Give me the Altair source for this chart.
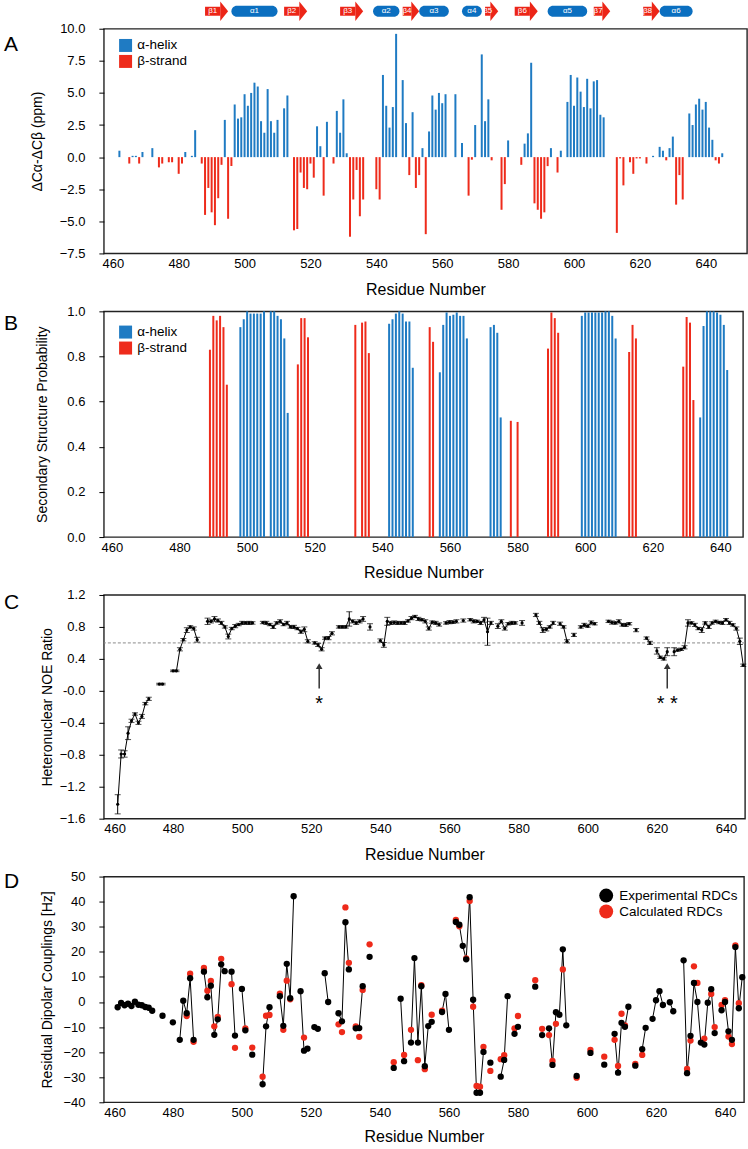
import altair as alt
import numpy as np
import pandas as pd

FONT = "Liberation Sans"
BLUE = "#1f7bc3"
RED = "#ee2b1b"
SS_BLUE = "#0b6fc0"
SS_RED = "#ec2517"
HELIX, STRAND = "α-helix", "β-strand"
X_TITLE = "Residue Number"
X_TICKS = list(range(460, 641, 20))

# ---------------- secondary-structure elements (track above panel A) ----------------
ss_name = ["β1", "α1", "β2", "β3", "α2", "β4", "α3", "α4", "β5", "β6", "α5", "β7", "β8", "α6"]
ss_start = [488, 496, 512, 529, 539, 548, 553, 566, 573, 582, 592, 606, 621, 626]
ss_end = [495, 510, 519, 536, 547, 553, 562, 572, 577, 589, 604, 611, 626, 636]

# ---------------- A: secondary chemical shifts ----------------
shift_res = [462, 465, 466, 467, 468, 469, 472, 474, 475, 477, 478, 480, 481, 482, 484, 485,
             487, 488, 489, 490, 491, 492, 493, 494, 495, 496, 497, 498, 499, 500, 501, 502,
             503, 504, 505, 506, 507, 508, 509, 510, 512, 513, 515, 516, 517, 518, 519, 520,
             521, 522, 523, 524, 525, 527, 528, 529, 530, 531, 532, 533, 534, 535, 536, 540,
             541, 542, 543, 544, 545, 546, 548, 549, 550, 551, 552, 553, 554, 555, 556, 557,
             558, 559, 560, 561, 564, 566, 568, 569, 570, 572, 573, 574, 575, 578, 579, 580,
             584, 585, 586, 587, 588, 589, 590, 591, 592, 593, 595, 596, 598, 599, 600, 601,
             602, 603, 604, 605, 606, 607, 608, 609, 613, 614, 615, 617, 618, 619, 620, 622,
             624, 626, 627, 628, 629, 630, 631, 632, 633, 635, 636, 637, 638, 639, 640, 641,
             642, 643, 644, 645]
shift_val = [0.5, -0.5, 0.1, 0.1, -0.5, 0.4, 0.7, -0.8, -0.5, -0.4, -0.4, -1.3, -0.5, 0.4, 0.1, 2.1,
             -0.5, -4.5, -2.4, -4.3, -5.3, -3.2, -0.6, 2.9, -4.8, -0.7, 4.1, 3.0, 3.1, 4.9, 4.0, 5.0,
             5.8, 5.5, 2.8, 1.9, 5.3, 2.8, 1.9, 2.9, 3.8, 4.8, -5.7, -5.6, -1.2, -2.4, -2.5, -0.5,
             -1.6, 2.4, 0.85, -3.0, 2.75, -0.5, 3.6, 1.9, 4.5, 0.3, -6.2, -3.3, -1.0, -4.6, -3.3, -2.5,
             -3.3, 6.4, 4.0, 2.3, 3.9, 9.6, 6.0, 2.65, -1.4, 3.5, -2.4, -1.4, 0.7, -6.0, 2.0, 4.8,
             3.7, 5.0, 4.2, 4.9, 4.9, 1.1, -3.0, -0.2, 2.5, 8.0, 2.8, 4.5, -0.25, -4.1, -2.1, 1.3,
             -0.6, 1.05, 1.85, 7.35, -3.6, -4.1, -4.8, -4.3, -0.7, 0.7, -1.2, 0.5, 4.3, 6.4, 4.0, 6.2,
             5.1, 3.9, 6.1, 3.8, 5.9, 6.0, 3.3, 3.1, -5.9, -0.1, -2.2, -0.4, -1.3, -0.1, -0.1, -0.5,
             0.1, 0.8, 0.5, -0.25, 0.7, 1.6, -3.7, -1.4, -3.3, 3.4, 2.5, 4.1, 4.55, 3.7, 4.3, 2.3,
             1.35, -0.25, -0.5, 0.3]

# ---------------- B: secondary-structure probabilities ----------------
helix_res = [498, 499, 500, 501, 502, 503, 504, 505, 507, 508, 509, 510, 511, 512,
             542, 543, 544, 545, 546, 547, 548, 549,
             557, 558, 559, 560, 561, 562, 563, 564, 565,
             572, 573, 574, 575,
             599, 600, 601, 602, 603, 604, 605, 606, 607, 608, 609,
             634, 635, 636, 637, 638, 639, 640, 641, 642]
helix_prob = [0.93, 0.965, 1.0, 0.99, 0.99, 0.99, 0.99, 1.0, 1.0, 1.0, 0.98, 0.965, 0.88, 0.55,
              0.945, 0.965, 0.99, 1.0, 0.99, 0.955, 0.955, 0.75,
              0.73, 0.94, 0.995, 0.98, 0.985, 0.995, 0.98, 0.98, 0.88,
              0.93, 0.94, 0.905, 0.53,
              0.98, 0.995, 0.995, 0.995, 0.995, 0.995, 0.995, 1.0, 1.0, 0.98, 0.88,
              0.53, 0.935, 1.0, 1.0, 1.0, 0.995, 0.985, 0.94, 0.74]
strand_res = [489, 490, 491, 492, 493, 494, 515, 516, 517, 518, 532, 534, 535, 536,
              554, 555, 578, 580, 589, 590, 591, 592, 613, 614, 615, 629, 630, 631, 632]
strand_prob = [0.83, 0.98, 0.96, 0.98, 0.93, 0.675, 0.765, 0.97, 0.97, 0.885, 0.94, 0.95, 0.955, 0.815,
               0.93, 0.865, 0.515, 0.51, 0.835, 0.995, 0.97, 0.905, 0.82, 0.94, 0.88, 0.755, 0.975, 0.95, 0.607]

# ---------------- C: heteronuclear NOE ----------------
noe_res = [464, 465, 466, 467, 468, 469, 470, 471, 472, 473, 476, 477, 480, 481, 482, 483,
           484, 485, 486, 487, 490, 491, 492, 493, 494, 495, 496, 497, 498, 499, 500, 501,
           502, 503, 506, 507, 508, 509, 510, 511, 512, 513, 514, 515, 516, 517, 518, 519,
           521, 522, 523, 524, 525, 526, 528, 529, 530, 531, 532, 533, 534, 535, 537, 540,
           541, 542, 543, 544, 545, 546, 547, 548, 549, 550, 551, 552, 553, 554, 555, 556,
           557, 559, 560, 561, 562, 564, 566, 567, 568, 569, 570, 571, 572, 574, 575, 576,
           577, 578, 579, 581, 585, 586, 587, 588, 589, 590, 592, 593, 594, 596, 598, 599,
           600, 601, 602, 606, 607, 608, 609, 610, 611, 612, 614, 617, 618, 620, 621, 622,
           623, 625, 626, 627, 628, 629, 630, 631, 632, 633, 634, 635, 636, 637, 638, 639,
           640, 641, 642, 643, 644, 645]
noe_val = [-1.42, -0.79, -0.79, -0.53, -0.375, -0.29, -0.40, -0.32, -0.16, -0.10, 0.085, 0.085, 0.25, 0.25, 0.52, 0.64,
           0.76, 0.80, 0.78, 0.64, 0.87, 0.87, 0.90, 0.88, 0.85, 0.80, 0.68, 0.78, 0.81, 0.83, 0.85, 0.85,
           0.85, 0.85, 0.855, 0.85, 0.83, 0.80, 0.85, 0.87, 0.83, 0.85, 0.80, 0.80, 0.78, 0.74, 0.77, 0.62,
           0.60, 0.575, 0.52, 0.66, 0.66, 0.72, 0.80, 0.80, 0.80, 0.90, 0.87, 0.85, 0.87, 0.90, 0.80, 0.63,
           0.575, 0.87, 0.85, 0.855, 0.85, 0.85, 0.85, 0.875, 0.91, 0.93, 0.90, 0.89, 0.87, 0.78, 0.86, 0.85,
           0.83, 0.85, 0.86, 0.86, 0.87, 0.88, 0.89, 0.87, 0.87, 0.85, 0.89, 0.74, 0.85, 0.81, 0.87, 0.78,
           0.84, 0.85, 0.85, 0.85, 0.95, 0.85, 0.76, 0.77, 0.80, 0.85, 0.84, 0.80, 0.62, 0.70, 0.80, 0.825,
           0.81, 0.855, 0.84, 0.87, 0.855, 0.85, 0.87, 0.825, 0.825, 0.84, 0.76, 0.66, 0.60, 0.50, 0.42, 0.40,
           0.49, 0.49, 0.51, 0.52, 0.545, 0.85, 0.85, 0.825, 0.78, 0.76, 0.85, 0.80, 0.85, 0.87, 0.855, 0.85,
           0.89, 0.85, 0.825, 0.78, 0.62, 0.32]
noe_err = [0.12, 0.05, 0.04, 0.08, 0.02, 0.015, 0.02, 0.025, 0.015, 0.02, 0.01, 0.01, 0.01, 0.01, 0.02, 0.015,
           0.03, 0.015, 0.02, 0.03, 0.04, 0.02, 0.03, 0.02, 0.02, 0.015, 0.03, 0.015, 0.02, 0.015, 0.02, 0.015,
           0.02, 0.015, 0.015, 0.02, 0.015, 0.02, 0.015, 0.02, 0.015, 0.02, 0.015, 0.02, 0.015, 0.02, 0.03, 0.02,
           0.015, 0.02, 0.02, 0.015, 0.02, 0.02, 0.015, 0.015, 0.015, 0.09, 0.02, 0.02, 0.02, 0.03, 0.04, 0.02,
           0.03, 0.05, 0.02, 0.02, 0.02, 0.015, 0.02, 0.015, 0.02, 0.015, 0.02, 0.015, 0.02, 0.02, 0.015, 0.02,
           0.02, 0.015, 0.02, 0.015, 0.02, 0.02, 0.015, 0.02, 0.015, 0.02, 0.03, 0.17, 0.02, 0.03, 0.02, 0.02,
           0.015, 0.02, 0.015, 0.03, 0.02, 0.02, 0.03, 0.02, 0.015, 0.02, 0.02, 0.015, 0.02, 0.02, 0.015, 0.02,
           0.015, 0.02, 0.015, 0.015, 0.02, 0.015, 0.02, 0.015, 0.02, 0.015, 0.02, 0.015, 0.02, 0.04, 0.015, 0.015,
           0.05, 0.05, 0.015, 0.015, 0.02, 0.04, 0.015, 0.02, 0.015, 0.03, 0.015, 0.02, 0.015, 0.015, 0.015, 0.02,
           0.015, 0.02, 0.015, 0.02, 0.04, 0.015]
NOE_CUTOFF = 0.6
flag_res = [522.3, 623]
flag_text = ["*", "* *"]

# ---------------- D: residual dipolar couplings ----------------
rdc_res = [464, 465, 466, 467, 468, 469, 470, 471, 472, 473, 474, 477, 480, 482, 483, 484,
           485, 486, 489, 490, 491, 492, 493, 494, 495, 497, 498, 500, 501, 503, 506, 507,
           508, 511, 512, 513, 514, 515, 517, 518, 519, 521, 522, 524, 525, 528, 529, 530,
           531, 533, 534, 535, 537, 544, 546, 547, 549, 550, 551, 552, 553, 554, 555, 558,
           559, 560, 562, 563, 564, 565, 566, 567, 568, 569, 570, 572, 575, 576, 577, 579,
           580, 585, 587, 589, 590, 591, 592, 593, 594, 597, 601, 605, 608, 609, 610, 611,
           612, 614, 616, 617, 619, 620, 621, 622, 624, 625, 628, 629, 630, 631, 632, 633,
           634, 635, 636, 637, 639, 640, 641, 642, 643, 644, 645]
rdc_exp = [-2.1, -0.4, -1.3, -0.7, -1.6, 0.1, -1.1, -1.3, -2.0, -2.3, -3.5, -5.5, -8.1, -15.1, 0.5, -4.5,
           9.5, -15.1, 12.1, 1.9, 6.5, -13.1, -6.9, 15.0, 12.3, 12.1, -13.4, 5.2, -11.3, -21.0, -32.8, -9.7,
           -2.1, 2.3, -9.5, 15.2, 1.5, 42.2, 4.3, -19.4, -18.6, -10.0, -10.7, 11.5, 0.0, -4.5, -7.7, 31.8,
           13.0, -10.5, -10.4, 6.3, 18.0, -26.3, 1.3, -23.6, -16.2, 17.5, -16.2, 6.3, -25.6, -9.6, -7.9, -4.0,
           3.2, -11.1, 31.9, 30.8, 22.4, 17.0, 41.8, 0.9, -36.2, -36.2, -19.9, -24.2, -29.8, -23.1, 2.3, -12.7,
           -9.9, 6.1, -13.2, -10.5, -25.1, -4.1, -5.1, 21.0, -9.3, -29.5, -20.3, -25.0, -12.7, -28.2, -8.3, -9.9,
           -1.9, -25.4, -18.8, -10.3, -6.7, 0.7, 4.3, -1.2, -0.1, -3.7, 16.6, -28.4, -13.5, 7.6, 0.0, -16.2,
           -17.0, -0.3, 5.1, -12.4, -3.3, 0.0, -11.7, -15.1, 21.9, -2.5, 9.9]
calc_res = [484, 485, 486, 489, 490, 491, 492, 493, 494, 497, 498, 501, 503, 506, 507, 508,
            511, 512, 513, 514, 518, 528, 529, 530, 531, 533, 534, 535, 537, 544, 547, 549,
            551, 552, 553, 555, 558, 562, 563, 565, 566, 567, 568, 569, 570, 572, 575, 576,
            579, 580, 585, 587, 589, 590, 591, 593, 597, 601, 605, 608, 609, 610, 611, 614,
            616, 629, 630, 631, 632, 634, 636, 637, 639, 640, 641, 642, 643, 644]
rdc_calc = [-5.6, 11.3, -15.9, 13.6, 4.5, 8.4, -9.7, -6.0, 17.2, 7.1, -18.3, -10.5, -18.2, -29.8, -5.5, -5.2,
            3.3, -11.1, 8.5, 1.1, -14.2, -8.9, -12.0, 37.7, 15.6, -9.7, -13.9, 4.8, 23.0, -24.0, -21.1, -11.1,
            -23.2, 6.7, -26.8, -5.1, -3.5, 32.7, 30.2, 17.4, 40.3, -1.9, -33.5, -33.8, -17.9, -27.5, -22.8, -21.2,
            -10.5, -5.6, 8.7, -10.7, -13.2, -23.5, -8.7, 13.0, -30.2, -19.1, -21.8, -15.1, -25.5, -4.7, -9.3, -24.7,
            -21.1, -26.7, -15.4, 14.2, 7.6, -14.6, 3.2, -10.0, -1.2, 0.7, -13.8, -16.8, 22.6, -0.5]
EXP_LABEL, CALC_LABEL = "Experimental RDCs", "Calculated RDCs"


def runs(res):
    """Label runs of consecutive residues so lines break across gaps."""
    out, k = [], 0
    for i, r in enumerate(res):
        if i and r - res[i - 1] > 1:
            k += 1
        out.append(k)
    return out


def x_enc(field, domain, title_pad=11):
    return alt.X(field, type="quantitative",
                 scale=alt.Scale(domain=domain, nice=False, zero=False),
                 axis=alt.Axis(values=X_TICKS, title=X_TITLE, format="d", ticks=False,
                               domain=False, grid=False, labelFontSize=13, labelPadding=4,
                               titleFontSize=16, titlePadding=title_pad, titleFontWeight="normal",
                               labelFont=FONT, titleFont=FONT, labelColor="black",
                               titleColor="black"))


def y_enc(field, domain, values, title, title_x, fmt=".1f", label_expr=None):
    axis_kw = dict(values=values, title=title, format=fmt, tickSize=5, tickColor="black",
                   domain=False, grid=False, labelFontSize=13, labelPadding=14,
                   titleFontSize=14, titleFontWeight="normal", titleX=title_x,
                   titleBaseline="middle", titleAlign="center", labelFont=FONT,
                   titleFont=FONT, labelColor="black", titleColor="black")
    if label_expr:
        axis_kw["labelExpr"] = label_expr
    return alt.Y(field, type="quantitative", scale=alt.Scale(domain=domain, nice=False, zero=False),
                 axis=alt.Axis(**axis_kw))


def letter(t, dy):
    return alt.Chart(pd.DataFrame({"t": [t]})).mark_text(
        font=FONT, fontSize=21, align="left", baseline="middle", color="black"
    ).encode(x=alt.value(-100), y=alt.value(dy), text="t:N")


def type_legend(top):
    return alt.Legend(title=None, orient="none", legendX=15, legendY=top, padding=0,
                      symbolType="square", symbolSize=169, symbolStrokeWidth=0, symbolOpacity=1,
                      labelFontSize=13.5, labelFont=FONT, labelColor="black", rowPadding=1,
                      labelOffset=5)


type_color = dict(scale=alt.Scale(domain=[HELIX, STRAND], range=[BLUE, RED]))

# ================= Panel A =================
A_DOM_X = [458.8, 651]
A_DOM_Y = [-7.5, 10]
A_W, A_H = 644, 225
a_ticks = [-7.5, -5, -2.5, 0, 2.5, 5, 7.5, 10]
ya = lambda f: y_enc(f, A_DOM_Y, a_ticks, "ΔCα-ΔCβ (ppm)", -66)
xa = lambda f: x_enc(f, A_DOM_X)

df_a = pd.DataFrame({"res": shift_res, "val": shift_val})
df_a["type"] = np.where(df_a["val"] >= 0, HELIX, STRAND)
bars_a = alt.Chart(df_a).mark_bar(size=2).encode(
    x=xa("res"), y=ya("val"),
    color=alt.Color("type:N", legend=type_legend(10), **type_color))

# secondary-structure track geometry, in A's data units
y_unit = (A_DOM_Y[1] - A_DOM_Y[0]) / A_H          # data units per pixel (y)
x_unit = (A_DOM_X[1] - A_DOM_X[0]) / A_W          # residues per pixel (x)
track_c = A_DOM_Y[1] + 17.5 * y_unit
head = 8 * x_unit
ss = pd.DataFrame({"name": ss_name, "start": ss_start, "end": ss_end})
ss["kind"] = np.where(ss["name"].str.startswith("β"), "strand", "helix")
strands = ss[ss.kind == "strand"].copy()
helices = ss[ss.kind == "helix"].copy()
strands["neck"] = strands["end"] - head
strands["b_lo"] = track_c - 4.5 * y_unit
strands["b_hi"] = track_c + 4.5 * y_unit
strands["lab_x"] = (strands["start"] + strands["neck"]) / 2
helices["e_lo"] = track_c - 5.5 * y_unit
helices["e_hi"] = track_c + 5.5 * y_unit
helices["lab_x"] = (helices["start"] + helices["end"]) / 2
heads = pd.concat([
    pd.DataFrame({"name": strands["name"], "hx": strands["neck"],
                  "lo": track_c - 9.7 * y_unit, "hi": track_c + 9.7 * y_unit}),
    pd.DataFrame({"name": strands["name"], "hx": strands["end"], "lo": track_c, "hi": track_c}),
])
labels_ss = pd.concat([strands[["name", "lab_x"]], helices[["name", "lab_x"]]])
labels_ss["yc"] = track_c

body = alt.Chart(strands).mark_rect(color=SS_RED).encode(
    x=xa("start"), x2="neck", y=ya("b_lo"), y2="b_hi")
tips = alt.Chart(heads).mark_area(color=SS_RED, opacity=1).encode(
    x=xa("hx"), y=ya("lo"), y2="hi", detail="name:N")
ovals = alt.Chart(helices).mark_rect(color=SS_BLUE, cornerRadius=5.5).encode(
    x=xa("start"), x2="end", y=ya("e_lo"), y2="e_hi")
ss_text = alt.Chart(labels_ss).mark_text(color="white", fontSize=8, font=FONT).encode(
    x=xa("lab_x"), y=ya("yc"), text="name:N")

panel_a = alt.layer(bars_a, body, tips, ovals, ss_text, letter("A", 16)).properties(
    width=A_W, height=A_H)

# ================= Panel B =================
B_DOM_X = [459.1, 645.2]
b_ticks = [0, 0.2, 0.4, 0.6, 0.8, 1.0]
df_b = pd.concat([
    pd.DataFrame({"res": helix_res, "prob": helix_prob, "type": HELIX}),
    pd.DataFrame({"res": strand_res, "prob": strand_prob, "type": STRAND}),
])
bars_b = alt.Chart(df_b).mark_bar(size=2).encode(
    x=x_enc("res", B_DOM_X),
    y=y_enc("prob", [0, 1], b_ticks, "Secondary Structure Probability", -61),
    color=alt.Color("type:N", legend=type_legend(14), **type_color))
panel_b = alt.layer(bars_b, letter("B", 13)).properties(width=640, height=226)

# ================= Panel C =================
C_DOM_X = [460, 645.5]
C_DOM_Y = [-1.6, 1.2]
c_ticks = [-1.6, -1.2, -0.8, -0.4, 0, 0.4, 0.8, 1.2]
xc = lambda f: x_enc(f, C_DOM_X)
yc = lambda f: y_enc(f, C_DOM_Y, c_ticks, "Heteronuclear NOE Ratio", -56,
                     label_expr="datum.value == 0 ? '-0.0' : format(datum.value, '.1f')")
df_c = pd.DataFrame({"res": noe_res, "noe": noe_val, "err": noe_err})
df_c["lo"] = df_c["noe"] - df_c["err"]
df_c["hi"] = df_c["noe"] + df_c["err"]
df_c["run"] = runs(noe_res)
caps_c = pd.concat([df_c[["res", "lo"]].rename(columns={"lo": "cap"}),
                    df_c[["res", "hi"]].rename(columns={"hi": "cap"})])

cutoff = alt.Chart(pd.DataFrame({"c": [NOE_CUTOFF]})).mark_rule(
    color="#8a8a8a", strokeDash=[3, 2], strokeWidth=1).encode(y=yc("c"))
line_c = alt.Chart(df_c).mark_line(color="black", strokeWidth=1).encode(
    x=xc("res"), y=yc("noe"), detail="run:N")
err_c = alt.Chart(df_c).mark_rule(color="black", strokeWidth=1).encode(
    x=xc("res"), y=yc("lo"), y2="hi")
cap_c = alt.Chart(caps_c).mark_tick(color="black", orient="horizontal", size=6, thickness=1).encode(
    x=xc("res"), y=yc("cap"))
pts_c = alt.Chart(df_c).mark_circle(color="black", size=10, opacity=1).encode(
    x=xc("res"), y=yc("noe"))

flags = pd.DataFrame({"res": flag_res, "txt": flag_text,
                      "a0": 0.03, "a1": 0.29, "tip": 0.31, "ty": -0.17})
arrow_c = alt.Chart(flags).mark_rule(color="#333", strokeWidth=1.5).encode(
    x=xc("res"), y=yc("a0"), y2="a1")
arrow_tip = alt.Chart(flags).mark_point(shape="triangle-up", filled=True, color="#333",
                                        size=45, opacity=1).encode(x=xc("res"), y=yc("tip"))
star = alt.Chart(flags).mark_text(fontSize=20, font=FONT, color="black", baseline="middle").encode(
    x=xc("res"), y=yc("ty"), text="txt:N")

panel_c = alt.layer(cutoff, line_c, err_c, cap_c, pts_c, arrow_c, arrow_tip, star,
                    letter("C", 8)).properties(width=642, height=224)

# ================= Panel D =================
D_DOM_X = [460, 645.5]
d_ticks = list(range(-40, 51, 10))
xd = lambda f: x_enc(f, D_DOM_X, title_pad=9)
yd = lambda f: y_enc(f, [-40, 50], d_ticks, "Residual Dipolar Couplings [Hz]", -56, fmt="d")
df_exp = pd.DataFrame({"res": rdc_res, "rdc": rdc_exp, "series": EXP_LABEL})
df_exp["run"] = runs(rdc_res)
df_calc = pd.DataFrame({"res": calc_res, "rdc": rdc_calc, "series": CALC_LABEL})
df_pts = pd.concat([df_calc, df_exp[["res", "rdc", "series"]]], ignore_index=True)
df_pts["z"] = np.where(df_pts["series"] == EXP_LABEL, 1, 0)

line_d = alt.Chart(df_exp).mark_line(color="black", strokeWidth=1).encode(
    x=xd("res"), y=yd("rdc"), detail="run:N")
pts_d = alt.Chart(df_pts).mark_circle(size=40, opacity=1).encode(
    x=xd("res"), y=yd("rdc"), order="z:Q",
    color=alt.Color("series:N",
                    scale=alt.Scale(domain=[EXP_LABEL, CALC_LABEL], range=["black", "#ee2a1a"]),
                    legend=alt.Legend(title=None, orient="none", legendX=496, legendY=12,
                                      padding=0, symbolType="circle", symbolSize=196,
                                      symbolStrokeWidth=0, symbolOpacity=1, labelFontSize=13.5,
                                      labelFont=FONT, labelColor="black", rowPadding=2,
                                      labelOffset=6)))
panel_d = alt.layer(line_d, pts_d, letter("D", 5)).properties(width=641, height=226)

chart = alt.vconcat(panel_a, panel_b, panel_c, panel_d, spacing=6).resolve_scale(
    x="independent", y="independent", color="independent"
).resolve_legend(color="independent").configure(
    font=FONT, padding={"left": 3, "top": 0, "right": 0, "bottom": 0}
).configure_view(stroke="#222", strokeWidth=1.4)

chart.save("out.html", embed_options={"renderer": "svg", "actions": False})
